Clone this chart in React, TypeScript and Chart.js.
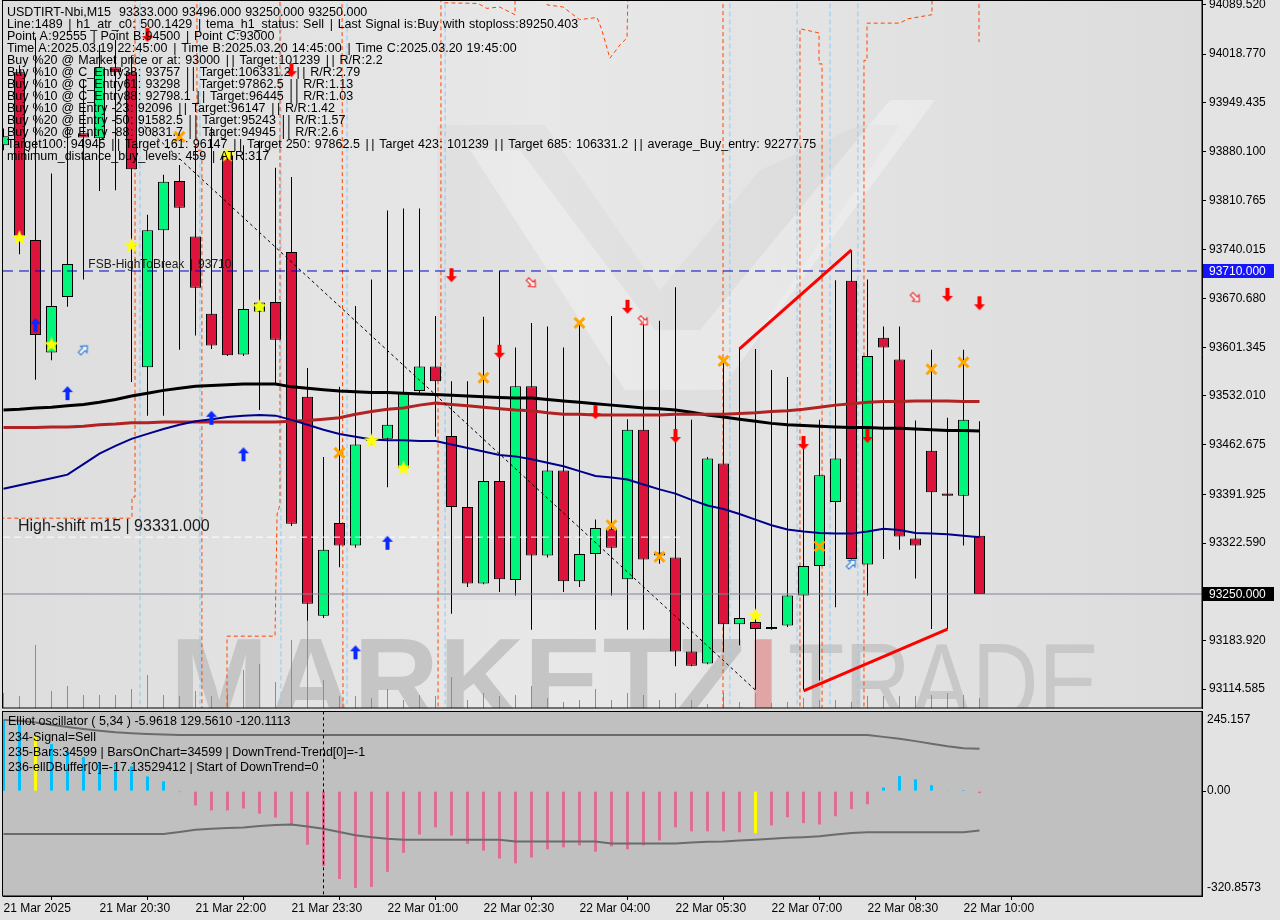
import React, { useEffect, useRef } from "react";
import { Chart, registerables } from "chart.js";

Chart.register(...registerables);

const FONT = '"Liberation Sans", Arial, Helvetica, sans-serif';
Chart.defaults.font.family = FONT;

// ---------------- time axis ----------------
const timeTickBars = [0, 6, 12, 18, 24, 30, 36, 42, 48, 54, 60];
const timeTickLabels = [
  "21 Mar 2025", "21 Mar 20:30", "21 Mar 22:00", "21 Mar 23:30", "22 Mar 01:00",
  "22 Mar 02:30", "22 Mar 04:00", "22 Mar 05:30", "22 Mar 07:00", "22 Mar 08:30", "22 Mar 10:00",
];

// ---------------- price candles (M15) ----------------
const openPrices = [
  93889, 93993, 93754, 93594, 93673, 93906, 93899, 94000, 93993, 93573,
  93768, 93838, 93759, 93649, 93875, 93591, 93652, 93666, 93737, 93531,
  93219, 93351, 93319, 93471, 93471, 93429, 93539, 93574, 93475, 93374,
  93265, 93411, 93270, 93546, 93305, 93426, 93268, 93307, 93343, 93271,
  93484, 93309, 93302, 93168, 93151, 93436, 93207, 93210, 93200, 93205,
  93248, 93290, 93381, 93696, 93292, 93615, 93584, 93329, 93454, 93393,
  93390, 93333,
];
const highPrices = [
  93913, 94003, 94043, 93849, 93915, 93982, 94032, 94039, 94017, 93790,
  93847, 93861, 93889, 93915, 93882, 93889, 93896, 93857, 93844, 93572,
  93445, 93545, 93660, 93698, 93796, 93799, 93799, 93646, 93553, 93553,
  93645, 93710, 93601, 93636, 93631, 93601, 93636, 93356, 93646, 93499,
  93643, 93639, 93687, 93498, 93445, 93582, 93601, 93599, 93569, 93559,
  93465, 93498, 93697, 93740, 93698, 93631, 93631, 93497, 93598, 93501,
  93598, 93496,
];
const lowPrices = [
  93882, 93734, 93555, 93583, 93659, 93698, 93824, 93825, 93552, 93504,
  93504, 93598, 93618, 93599, 93589, 93589, 93512, 93549, 93347, 93212,
  93216, 93288, 93316, 93463, 93402, 93426, 93536, 93474, 93222, 93260,
  93264, 93253, 93248, 93199, 93302, 93253, 93260, 93199, 93248, 93199,
  93199, 93293, 93147, 93147, 93150, 93167, 93177, 93114, 93199, 93203,
  93114, 93127, 93231, 93299, 93248, 93300, 93313, 93272, 93200, 93200,
  93319, 93250,
];
const closePrices = [
  93902, 93759, 93619, 93660, 93720, 93900, 94000, 93993, 93855, 93768,
  93837, 93800, 93686, 93604, 93590, 93656, 93665, 93612, 93350, 93236,
  93313, 93319, 93463, 93468, 93491, 93536, 93574, 93553, 93374, 93265,
  93411, 93271, 93546, 93305, 93426, 93268, 93307, 93344, 93316, 93484,
  93299, 93305, 93168, 93148, 93443, 93207, 93216, 93200, 93203, 93248,
  93290, 93419, 93443, 93300, 93589, 93601, 93332, 93319, 93395, 93390,
  93498, 93250,
];
const tickVolumes = [
  15, 12, 63, 17, 22, 13, 13, 13, 19, 33, 13, 12, 17, 12, 15, 38, 44, 26, 68, 87,
  28, 12, 12, 10, 19, 8, 13, 12, 31, 8, 15, 12, 13, 22, 10, 6, 8, 19, 8, 15,
  13, 8, 15, 8, 4, 15, 6, 15, 5, 6, 10, 8, 8, 6, 12, 12, 12, 12, 13, 15, 13, 10,
];

// ---------------- moving averages ----------------
const maSlowBlack = [
  93512, 93513, 93515, 93516, 93518, 93520, 93523, 93527, 93532, 93536,
  93540, 93543, 93546, 93547, 93548, 93549, 93549, 93549, 93545, 93543,
  93541, 93539, 93538, 93537, 93537, 93536, 93535, 93534, 93533, 93532,
  93531, 93530, 93529, 93529, 93527, 93525, 93523, 93521, 93519, 93517,
  93515, 93514, 93512, 93509, 93505, 93502, 93499, 93496, 93493, 93491,
  93490, 93489, 93488, 93487, 93487, 93486, 93486, 93485, 93484, 93483,
  93483, 93482,
];
const maMidBrown = [
  93487, 93487, 93487, 93488, 93488, 93489, 93491, 93492, 93494, 93494,
  93495, 93495, 93495, 93495, 93495, 93495, 93495, 93495, 93496, 93497,
  93499, 93501, 93506, 93510, 93513, 93515, 93519, 93522, 93520, 93518,
  93516, 93514, 93512, 93511, 93508, 93506, 93506, 93505, 93505, 93505,
  93505, 93505, 93506, 93506, 93506, 93506, 93507, 93508, 93510, 93511,
  93513, 93516, 93519, 93521, 93523, 93524, 93524, 93525, 93525, 93525,
  93524, 93524,
];
const maFastNavy = [
  93400, 93405, 93410, 93415, 93420, 93435, 93450, 93461, 93471, 93478,
  93485, 93491, 93496, 93499, 93502, 93504, 93505, 93504, 93498, 93491,
  93484, 93478, 93474, 93470, 93469, 93469, 93468, 93468, 93463, 93458,
  93453, 93448, 93446, 93442, 93437, 93432, 93425, 93418, 93416, 93413,
  93406, 93399, 93393, 93384, 93376, 93371, 93364, 93356, 93348, 93342,
  93339, 93337, 93336, 93336, 93339, 93343, 93341, 93337, 93336, 93335,
  93333, 93331,
];

// ---------------- price axis ----------------
const PRICE_MAX = 94095.93;
const PRICE_MIN = 93087.67;
const priceTicks = [
  94089.52, 94018.77, 93949.435, 93880.1, 93810.765, 93740.015, 93670.68,
  93601.345, 93532.01, 93462.675, 93391.925, 93322.59, 93183.92, 93114.585,
];
const fsbLevel = 93710;
const bidLevel = 93250;
const highShiftLevel = 93331;
const highShiftEndBar = 42.3;

// ---------------- signals ----------------
const starMarks = [[1, 93757], [3, 93605], [8, 93746], [14, 93875], [16, 93659], [23, 93468], [25, 93429], [47, 93219]];
const buyArrowMarks = [[2, 93633], [4, 93536], [13, 93501], [15, 93449], [22, 93167], [24, 93323]];
const buyHollowMarks = [[5, 93598], [53, 93293]];
const sellArrowMarks = [[9, 94046], [18, 93996], [28, 93704], [31, 93595], [37, 93509], [39, 93659], [42, 93475], [50, 93465], [54, 93475], [59, 93676], [61, 93664]];
const sellHollowMarks = [[33, 93693], [40, 93639], [57, 93672]];
const crossMarks = [[11, 93901], [21, 93451], [30, 93558], [36, 93636], [38, 93348], [41, 93303], [45, 93582], [51, 93318], [58, 93570], [60, 93580]];

// ---------------- drawn lines ----------------
const upperTrend = [[46, 93599], [53, 93740]];
const lowerTrend = [[50, 93112], [59, 93200]];
const dottedDiagonal = [[8.53, 93922], [47, 93113]];
const blueMarkerBars = [8.53, 12.28, 17.34, 21.47, 27.6, 45.4, 49.6, 51.66, 53.4];
const stepLineSegments = [
  [[-0.2, 93358], [8.03, 93358], [8.03, 93388], [8.22, 93388], [8.22, 94110]],
  [[12.09, 94110], [12.09, 93882], [12.4, 93882], [12.4, 93070]],
  [[13.97, 93070], [13.97, 93190], [16.97, 93190], [17.1, 93364], [17.28, 93377], [17.28, 94110]],
  [[21.16, 94110], [21.22, 93070]],
  [[27.16, 93070], [27.16, 93555], [27.34, 93555], [27.34, 94110]],
  [[27.47, 94110], [27.47, 94092], [29.66, 94091], [30.2, 94084], [31.0, 94086], [31.97, 94075], [31.97, 94110]],
  [[33.97, 94110], [33.97, 94089], [34.97, 94086], [36.0, 94068], [37.1, 94071], [37.4, 94053], [37.9, 94013], [38.53, 94032], [38.97, 94042], [39.03, 94110]],
  [[44.97, 94110], [44.97, 93070]],
  [[49.78, 93070], [49.78, 94055], [50.97, 94049], [50.97, 94005], [51.16, 94005], [51.16, 93070]],
  [[53.78, 93070], [53.78, 94010], [53.97, 94010], [53.97, 94063], [56.03, 94063], [56.5, 94069], [58.03, 94075], [58.03, 94110]],
  [[60.97, 94110], [60.97, 94036]],
];

// ---------------- oscillator ----------------
const OSC_MAX = 245.157;
const OSC_MIN = -320.8573;
const oscValues = [
  218, 205, 168, 144, 122, 104, 88, 82, 76, 45,
  30, -3, -44, -59, -59, -53, -69, -81, -102, -164,
  -229, -269, -296, -293, -247, -189, -133, -111, -136, -161,
  -182, -206, -221, -203, -178, -172, -166, -185, -169, -178,
  -166, -151, -111, -123, -123, -123, -126, -129, -105, -80,
  -98, -102, -77, -55, -40, 11, 46, 36, 18, 2,
  3, -5.9618,
];
const oscSignalBars = [2, 47];
const oscUpper = [
  218, 215, 210, 203, 196, 190, 185, 180, 177, 175,
  173, 172, 172, 172, 172, 172, 172, 172, 172, 172,
  172, 172, 172, 172, 172, 172, 172, 172, 172, 172,
  172, 172, 172, 172, 172, 172, 172, 172, 172, 172,
  172, 172, 172, 172, 172, 172, 172, 172, 172, 172,
  172, 172, 172, 172, 172, 166, 160, 153, 145, 137,
  131, 129.561,
];
const oscLower = [
  -131, -131, -131, -131, -131, -131, -131, -131, -131, -131,
  -131, -125, -118, -115, -113, -111, -107, -104, -102, -108,
  -115, -125, -135, -141, -146, -149, -149, -149, -149, -149,
  -149, -149, -154, -154, -154, -154, -154, -154, -160, -160,
  -160, -160, -160, -157, -155, -154, -151, -149, -146, -143,
  -141, -138, -133, -128, -126, -126, -126, -126, -126, -126,
  -126, -120.1113,
];
const separatorBar = 20;

// ---------------- texts ----------------
const infoLines = [
  "USDTIRT-Nbi,M15  93333.000 93496.000 93250.000 93250.000",
  "Line:1489 | h1_atr_c0: 500.1429 | tema_h1_status: Sell | Last Signal is:Buy with stoploss:89250.403",
  "Point A:92555 | Point B:94500 | Point C:93000",
  "Time A:2025.03.19 22:45:00 | Time B:2025.03.20 14:45:00 | Time C:2025.03.20 19:45:00",
  "Buy %20 @ Market price or at: 93000 || Target:101239 || R/R:2.2",
  "Buy %10 @ C_Entry38: 93757 || Target:106331.2 || R/R:2.79",
  "Buy %10 @ C_Entry61: 93298 || Target:97862.5 || R/R:1.13",
  "Buy %10 @ C_Entry88: 92798.1 || Target:96445 || R/R:1.03",
  "Buy %10 @ Entry -23: 92096 || Target:96147 || R/R:1.42",
  "Buy %20 @ Entry -50: 91582.5 || Target:95243 || R/R:1.57",
  "Buy %20 @ Entry -88: 90831.7 || Target:94945 || R/R:2.6",
  "Target100: 94945 || Target 161: 96147 || Target 250: 97862.5 || Target 423: 101239 || Target 685: 106331.2 || average_Buy_entry: 92277.75",
  "minimum_distance_buy_levels: 459 | ATR:317",
];
const oscLines = [
  "Elliot oscillator ( 5,34 ) -5.9618 129.5610 -120.1113",
  "234-Signal=Sell",
  "235-Bars:34599 | BarsOnChart=34599 | DownTrend-Trend[0]=-1",
  "236-ellDBuffer[0]=-17.13529412 | Start of DownTrend=0",
];

// ---------------- layout constants ----------------
const X_MIN = -0.03125;
const X_MAX = X_MIN + 1199 / 16;
const WINDOW_BG = "#e3e3e3";
const BULL = "#00f57a";
const BEAR = "#dc143c";

const pts = (arr: number[][]) => arr.map(([x, y]) => ({ x, y }));

// Tahoma-like text: wider spaces, bars and colons than Liberation Sans
function drawLabel(ctx: CanvasRenderingContext2D, text: string, x: number, y: number) {
  let cx = x;
  const parts = text.split(/([| :])/);
  parts.forEach((p) => {
    if (!p) return;
    if (p === " ") { cx += 4; return; }
    if (p === "|") { ctx.fillText("|", cx + 1.7, y); cx += 5.7; return; }
    if (p === ":") { ctx.fillText(":", cx + 0.4, y); cx += 4.2; return; }
    ctx.fillText(p, cx, y);
    cx += ctx.measureText(p).width;
  });
}

function makeStar(r: number, fill: string) {
  const c = document.createElement("canvas");
  const s = Math.ceil(r * 2 + 2);
  c.width = s; c.height = s;
  const g = c.getContext("2d")!;
  g.translate(s / 2, s / 2);
  g.beginPath();
  for (let k = 0; k < 10; k++) {
    const rr = k % 2 === 0 ? r : r * 0.42;
    const a = -Math.PI / 2 + (k * Math.PI) / 5;
    g.lineTo(rr * Math.cos(a), rr * Math.sin(a));
  }
  g.closePath();
  g.fillStyle = fill;
  g.fill();
  return c;
}

function makeArrow(color: string, angle: number, hollow: boolean) {
  const c = document.createElement("canvas");
  c.width = 16; c.height = 16;
  const g = c.getContext("2d")!;
  g.translate(8, 8);
  g.rotate((angle * Math.PI) / 180);
  g.beginPath();
  if (hollow) {
    g.moveTo(0, -5.5); g.lineTo(4.5, -0.5); g.lineTo(1.8, -0.5); g.lineTo(1.8, 5.5);
    g.lineTo(-1.8, 5.5); g.lineTo(-1.8, -0.5); g.lineTo(-4.5, -0.5);
  } else {
    g.moveTo(0, -7); g.lineTo(5.5, -1); g.lineTo(2, -1); g.lineTo(2, 7);
    g.lineTo(-2, 7); g.lineTo(-2, -1); g.lineTo(-5.5, -1);
  }
  g.closePath();
  if (hollow) {
    g.fillStyle = "rgba(255,255,255,0.7)";
    g.fill();
    g.strokeStyle = color;
    g.lineWidth = 1.2;
    g.stroke();
  } else {
    g.fillStyle = color;
    g.fill();
  }
  return c;
}

function verticals(bars: number[], lo: number, hi: number) {
  const out: any[] = [];
  bars.forEach((b) => {
    out.push({ x: b, y: lo }, { x: b, y: hi }, { x: b, y: null });
  });
  return out;
}

function segmentsToData(segs: number[][][]) {
  const out: any[] = [];
  segs.forEach((seg) => {
    seg.forEach(([x, y]) => out.push({ x, y }));
    out.push({ x: seg[seg.length - 1][0], y: null });
  });
  return out;
}

const lineDs = (label: string, data: any[], color: string, width: number, order: number, dash: number[] = []) => ({
  type: "line",
  label,
  data,
  yAxisID: "y",
  xAxisID: "x",
  borderColor: color,
  borderWidth: width,
  borderDash: dash,
  pointRadius: 0,
  fill: false,
  spanGaps: false,
  tension: 0,
  order,
});

const mainPlugin = {
  id: "mainDecor",
  beforeDraw(chart: any) {
    const { ctx, chartArea: a, width, height } = chart;
    ctx.save();
    ctx.fillStyle = WINDOW_BG;
    ctx.fillRect(0, 0, width, height);
    const g = ctx.createLinearGradient(a.left, 0, a.right, 0);
    g.addColorStop(0, "#dddddd");
    g.addColorStop(0.45, "#e8e8e8");
    g.addColorStop(1, "#dcdcdc");
    ctx.fillStyle = g;
    ctx.fillRect(a.left, a.top, a.right - a.left, a.bottom - a.top);
    ctx.beginPath();
    ctx.rect(a.left, a.top, a.right - a.left, a.bottom - a.top);
    ctx.clip();
    ctx.fillStyle = "rgba(0,0,0,0.025)";
    ctx.beginPath();
    ctx.moveTo(437, 125); ctx.lineTo(545, 125); ctx.lineTo(660, 290); ctx.lineTo(760, 170);
    ctx.lineTo(860, 125); ctx.lineTo(900, 125); ctx.lineTo(760, 330); ctx.lineTo(760, 600);
    ctx.lineTo(437, 600); ctx.closePath(); ctx.fill();
    ctx.fillStyle = "rgba(255,255,255,0.3)";
    ctx.beginPath();
    ctx.moveTo(470, 150); ctx.lineTo(520, 150); ctx.lineTo(655, 330); ctx.lineTo(700, 330);
    ctx.lineTo(890, 100); ctx.lineTo(935, 100); ctx.lineTo(720, 390); ctx.lineTo(625, 390);
    ctx.closePath(); ctx.fill();
    ctx.restore();
  },
  beforeDatasetsDraw(chart: any) {
    const { ctx, chartArea: a } = chart;
    ctx.save();
    ctx.beginPath();
    ctx.rect(a.left, a.top, a.right - a.left, a.bottom - a.top);
    ctx.clip();
    ctx.textBaseline = "alphabetic";
    ctx.font = `bold 118px ${FONT}`;
    ctx.fillStyle = "#c5c5c5";
    ctx.fillText("MARKETZ", 170, 721);
    const w = ctx.measureText("MARKETZ").width;
    ctx.fillStyle = "#e0a6a6";
    ctx.fillText("I", 170 + w, 721);
    ctx.font = `112px ${FONT}`;
    const tw = ctx.measureText("TRADE").width;
    ctx.translate(788, 721);
    ctx.scale(312 / tw, 1);
    ctx.fillStyle = "#c8c8c8";
    ctx.fillText("TRADE", 0, 0);
    ctx.restore();
  },
  afterDatasetsDraw(chart: any) {
    const { ctx, scales } = chart;
    ctx.save();
    ctx.fillStyle = "#000";
    ctx.textBaseline = "middle";
    ctx.font = `12.5px ${FONT}`;
    infoLines.forEach((t, i) => drawLabel(ctx, t, 7, 13 + 12 * i));
    const y = scales.y;
    const x = scales.x;
    ctx.fillStyle = "#1a1a1a";
    ctx.font = `12px ${FONT}`;
    ctx.textBaseline = "alphabetic";
    drawLabel(ctx, "FSB-HighToBreak | 93710", x.getPixelForValue(5.3), y.getPixelForValue(fsbLevel) - 3);
    ctx.font = `16px ${FONT}`;
    ctx.fillText("High-shift m15 | 93331.000", x.getPixelForValue(0.9), y.getPixelForValue(highShiftLevel) - 6);
    ctx.restore();
  },
  afterDraw(chart: any) {
    const { ctx, chartArea: a, scales } = chart;
    ctx.save();
    ctx.strokeStyle = "#000";
    ctx.lineWidth = 1;
    ctx.strokeRect(a.left - 0.5, a.top + 0.5, a.right - a.left + 0.5, a.bottom - a.top - 0.5);
    const box = (v: number, bg: string) => {
      const py = Math.round(scales.y.getPixelForValue(v));
      ctx.fillStyle = bg;
      ctx.fillRect(a.right + 1, py - 7, 71, 14);
      ctx.fillStyle = "#fff";
      ctx.font = `12px ${FONT}`;
      ctx.textBaseline = "middle";
      ctx.fillText(v.toFixed(3), a.right + 7, py + 0.5);
    };
    box(fsbLevel, "#1414ff");
    box(bidLevel, "#000000");
    ctx.restore();
  },
};

const oscPlugin = {
  id: "oscDecor",
  beforeDraw(chart: any) {
    const { ctx, chartArea: a, width, height } = chart;
    ctx.save();
    ctx.fillStyle = WINDOW_BG;
    ctx.fillRect(0, 0, width, height);
    ctx.fillStyle = "#c0c0c0";
    ctx.fillRect(a.left, a.top, a.right - a.left, a.bottom - a.top);
    ctx.restore();
  },
  afterDatasetsDraw(chart: any) {
    const { ctx } = chart;
    ctx.save();
    ctx.fillStyle = "#000";
    ctx.textBaseline = "middle";
    ctx.font = `12.5px ${FONT}`;
    oscLines.forEach((t, i) => ctx.fillText(t, 8, 12 + 15.3 * i));
    ctx.restore();
  },
  afterDraw(chart: any) {
    const { ctx, chartArea: a, scales } = chart;
    ctx.save();
    ctx.strokeStyle = "#000";
    ctx.lineWidth = 1;
    ctx.strokeRect(a.left - 0.5, a.top + 0.5, a.right - a.left + 0.5, a.bottom - a.top - 0.5);
    ctx.fillStyle = "#000";
    ctx.font = `12px ${FONT}`;
    ctx.textBaseline = "middle";
    const yTop = scales.y.getPixelForValue(OSC_MAX);
    const yZero = scales.y.getPixelForValue(0);
    const yBot = scales.y.getPixelForValue(OSC_MIN);
    ctx.fillText(OSC_MAX.toFixed(3), a.right + 5, yTop + 9);
    ctx.fillText((0).toFixed(2), a.right + 5, yZero);
    ctx.fillText(OSC_MIN.toFixed(4), a.right + 5, yBot - 8);
    ctx.beginPath();
    ctx.moveTo(a.right, Math.round(yZero) + 0.5);
    ctx.lineTo(a.right + 4, Math.round(yZero) + 0.5);
    ctx.stroke();
    ctx.restore();
  },
};

function mainConfig(): any {
  const star = makeStar(8, "#ffff00");
  const upArrow = makeArrow("#0a28ff", 0, false);
  const downArrow = makeArrow("#ff0000", 180, false);
  const upHollow = makeArrow("#3a7fd8", 45, true);
  const downHollow = makeArrow("#f03030", 135, true);
  const candleColors = closePrices.map((c, i) => (c >= openPrices[i] ? BULL : BEAR));
  const scatter = (label: string, arr: number[][], style: any, extra: any = {}) => ({
    type: "scatter",
    label,
    data: pts(arr),
    yAxisID: "y",
    xAxisID: "x",
    pointStyle: style,
    pointRadius: 8,
    order: 0,
    ...extra,
  });
  return {
    type: "line",
    data: {
      datasets: [
        scatter("stars", starMarks, star),
        scatter("buy", buyArrowMarks, upArrow),
        scatter("buy hollow", buyHollowMarks, upHollow),
        scatter("sell", sellArrowMarks, downArrow),
        scatter("sell hollow", sellHollowMarks, downHollow),
        scatter("cross", crossMarks, "crossRot", { pointRadius: 7, borderWidth: 3, borderColor: "#ffa500", backgroundColor: "#ffa500" }),
        lineDs("upper trend", pts(upperTrend), "#ff0000", 3, 5),
        lineDs("lower trend", pts(lowerTrend), "#ff0000", 3, 5),
        lineDs("FSB", pts([[X_MIN, fsbLevel], [X_MAX, fsbLevel]]), "#0000c0", 1, 20, [10, 6]),
        lineDs("bid", pts([[X_MIN, bidLevel], [X_MAX, bidLevel]]), "#7c8794", 1, 20),
        lineDs("high shift", pts([[X_MIN, highShiftLevel], [highShiftEndBar, highShiftLevel]]), "#ffffff", 1, 20, [7, 4]),
        lineDs("diagonal", pts(dottedDiagonal), "#000000", 1, 20, [3, 3]),
        lineDs("MA navy", pts(maFastNavy.map((v, i) => [i, v])), "#00008b", 2, 30),
        lineDs("MA brown", pts(maMidBrown.map((v, i) => [i, v])), "#b22222", 3, 31),
        lineDs("MA black", pts(maSlowBlack.map((v, i) => [i, v])), "#000000", 3, 32),
        {
          type: "bar",
          label: "bodies",
          data: openPrices.map((o, i) => ({ x: i, y: [o, closePrices[i]] })),
          yAxisID: "y",
          xAxisID: "x",
          backgroundColor: candleColors,
          borderColor: "#000",
          borderWidth: 1,
          borderSkipped: false,
          barThickness: 11,
          minBarLength: 2,
          grouped: false,
          inflateAmount: 0,
          order: 40,
        },
        {
          type: "bar",
          label: "wicks",
          data: lowPrices.map((l, i) => ({ x: i, y: [l, highPrices[i]] })),
          yAxisID: "y",
          xAxisID: "x",
          backgroundColor: "#000",
          borderWidth: 0,
          barThickness: 1,
          grouped: false,
          inflateAmount: 0,
          order: 50,
        },
        lineDs("step", segmentsToData(stepLineSegments), "#ff4500", 1, 60, [4, 3]),
        lineDs("markers", verticals(blueMarkerBars, 93070, 94110), "#87cefa", 1, 61, [5, 3]),
        {
          type: "bar",
          label: "volume",
          yAxisID: "vol",
          xAxisID: "x",
          data: tickVolumes.map((v, i) => ({ x: i, y: v })),
          backgroundColor: "#32cd32",
          barThickness: 1,
          grouped: false,
          inflateAmount: 0,
          order: 70,
        },
      ],
    },
    options: {
      responsive: false,
      animation: false,
      devicePixelRatio: 1,
      events: [],
      layout: { autoPadding: false, padding: { left: 3, right: 0, top: 0, bottom: 2 } },
      plugins: { legend: { display: false }, tooltip: { enabled: false } },
      scales: {
        x: { type: "linear", min: X_MIN, max: X_MAX, display: false, offset: false },
        y: {
          type: "linear",
          position: "right",
          min: PRICE_MIN,
          max: PRICE_MAX,
          afterFit: (s: any) => { s.width = 78; s.paddingTop = 0; s.paddingBottom = 0; },
          afterBuildTicks: (s: any) => { s.ticks = priceTicks.map((v) => ({ value: v })); },
          ticks: {
            autoSkip: false,
            color: "#000",
            padding: 3,
            font: { family: FONT, size: 12 },
            callback: (v: any) => Number(v).toFixed(3),
          },
          grid: { drawOnChartArea: false, drawTicks: true, tickLength: 4, color: "#000" },
          border: { display: true, color: "#000", width: 1 },
        },
        vol: { type: "linear", axis: "y", position: "left", display: false, min: 0, max: 708 },
      },
    },
    plugins: [mainPlugin],
  };
}

function oscConfig(): any {
  const colors = oscValues.map((v, i) => (oscSignalBars.includes(i) ? "#ffff00" : v >= 0 ? "#00bfff" : "#db7093"));
  return {
    type: "line",
    data: {
      datasets: [
        lineDs("separator", pts([[separatorBar, OSC_MIN - 50], [separatorBar, OSC_MAX + 50]]), "#000", 1, 1, [3, 3]),
        lineDs("upper", pts(oscUpper.map((v, i) => [i, v])), "#6b6b6b", 2, 5),
        lineDs("lower", pts(oscLower.map((v, i) => [i, v])), "#6b6b6b", 2, 5),
        {
          type: "bar",
          label: "elliott",
          data: oscValues.map((v, i) => ({ x: i, y: v })),
          yAxisID: "y",
          xAxisID: "x",
          backgroundColor: colors,
          borderWidth: 0,
          barThickness: 3,
          grouped: false,
          inflateAmount: 0,
          order: 10,
        },
      ],
    },
    options: {
      responsive: false,
      animation: false,
      devicePixelRatio: 1,
      events: [],
      layout: { autoPadding: false, padding: { left: 3, right: 0, top: 1, bottom: 0 } },
      plugins: { legend: { display: false }, tooltip: { enabled: false } },
      scales: {
        x: {
          type: "linear",
          min: X_MIN,
          max: X_MAX,
          offset: false,
          afterBuildTicks: (s: any) => { s.ticks = timeTickBars.map((v) => ({ value: v })); },
          afterFit: (s: any) => { s.height = 24; s.paddingLeft = 0; s.paddingRight = 0; },
          ticks: {
            autoSkip: false,
            maxRotation: 0,
            minRotation: 0,
            align: "start",
            padding: 1,
            color: "#000",
            font: { family: FONT, size: 12 },
            callback: (_v: any, i: number) => timeTickLabels[i],
          },
          grid: { drawOnChartArea: false, drawTicks: true, tickLength: 4, color: "#000" },
          border: { display: true, color: "#000" },
        },
        y: {
          type: "linear",
          position: "right",
          min: OSC_MIN,
          max: OSC_MAX,
          afterFit: (s: any) => { s.width = 78; s.paddingTop = 0; s.paddingBottom = 0; },
          ticks: { display: false },
          grid: { drawOnChartArea: false, drawTicks: false },
          border: { display: true, color: "#000" },
        },
      },
    },
    plugins: [oscPlugin],
  };
}

export default function App() {
  const mainRef = useRef<HTMLCanvasElement>(null);
  const oscRef = useRef<HTMLCanvasElement>(null);
  useEffect(() => {
    const main = new Chart(mainRef.current as HTMLCanvasElement, mainConfig());
    const osc = new Chart(oscRef.current as HTMLCanvasElement, oscConfig());
    return () => {
      main.destroy();
      osc.destroy();
    };
  }, []);
  return (
    <div style={{ position: "fixed", left: 0, top: 0, width: 1280, height: 920, background: WINDOW_BG, overflow: "hidden" }}>
      <canvas ref={mainRef} width={1280} height={710} style={{ position: "absolute", left: 0, top: 0, width: 1280, height: 710 }} />
      <canvas ref={oscRef} width={1280} height={210} style={{ position: "absolute", left: 0, top: 710, width: 1280, height: 210 }} />
    </div>
  );
}
